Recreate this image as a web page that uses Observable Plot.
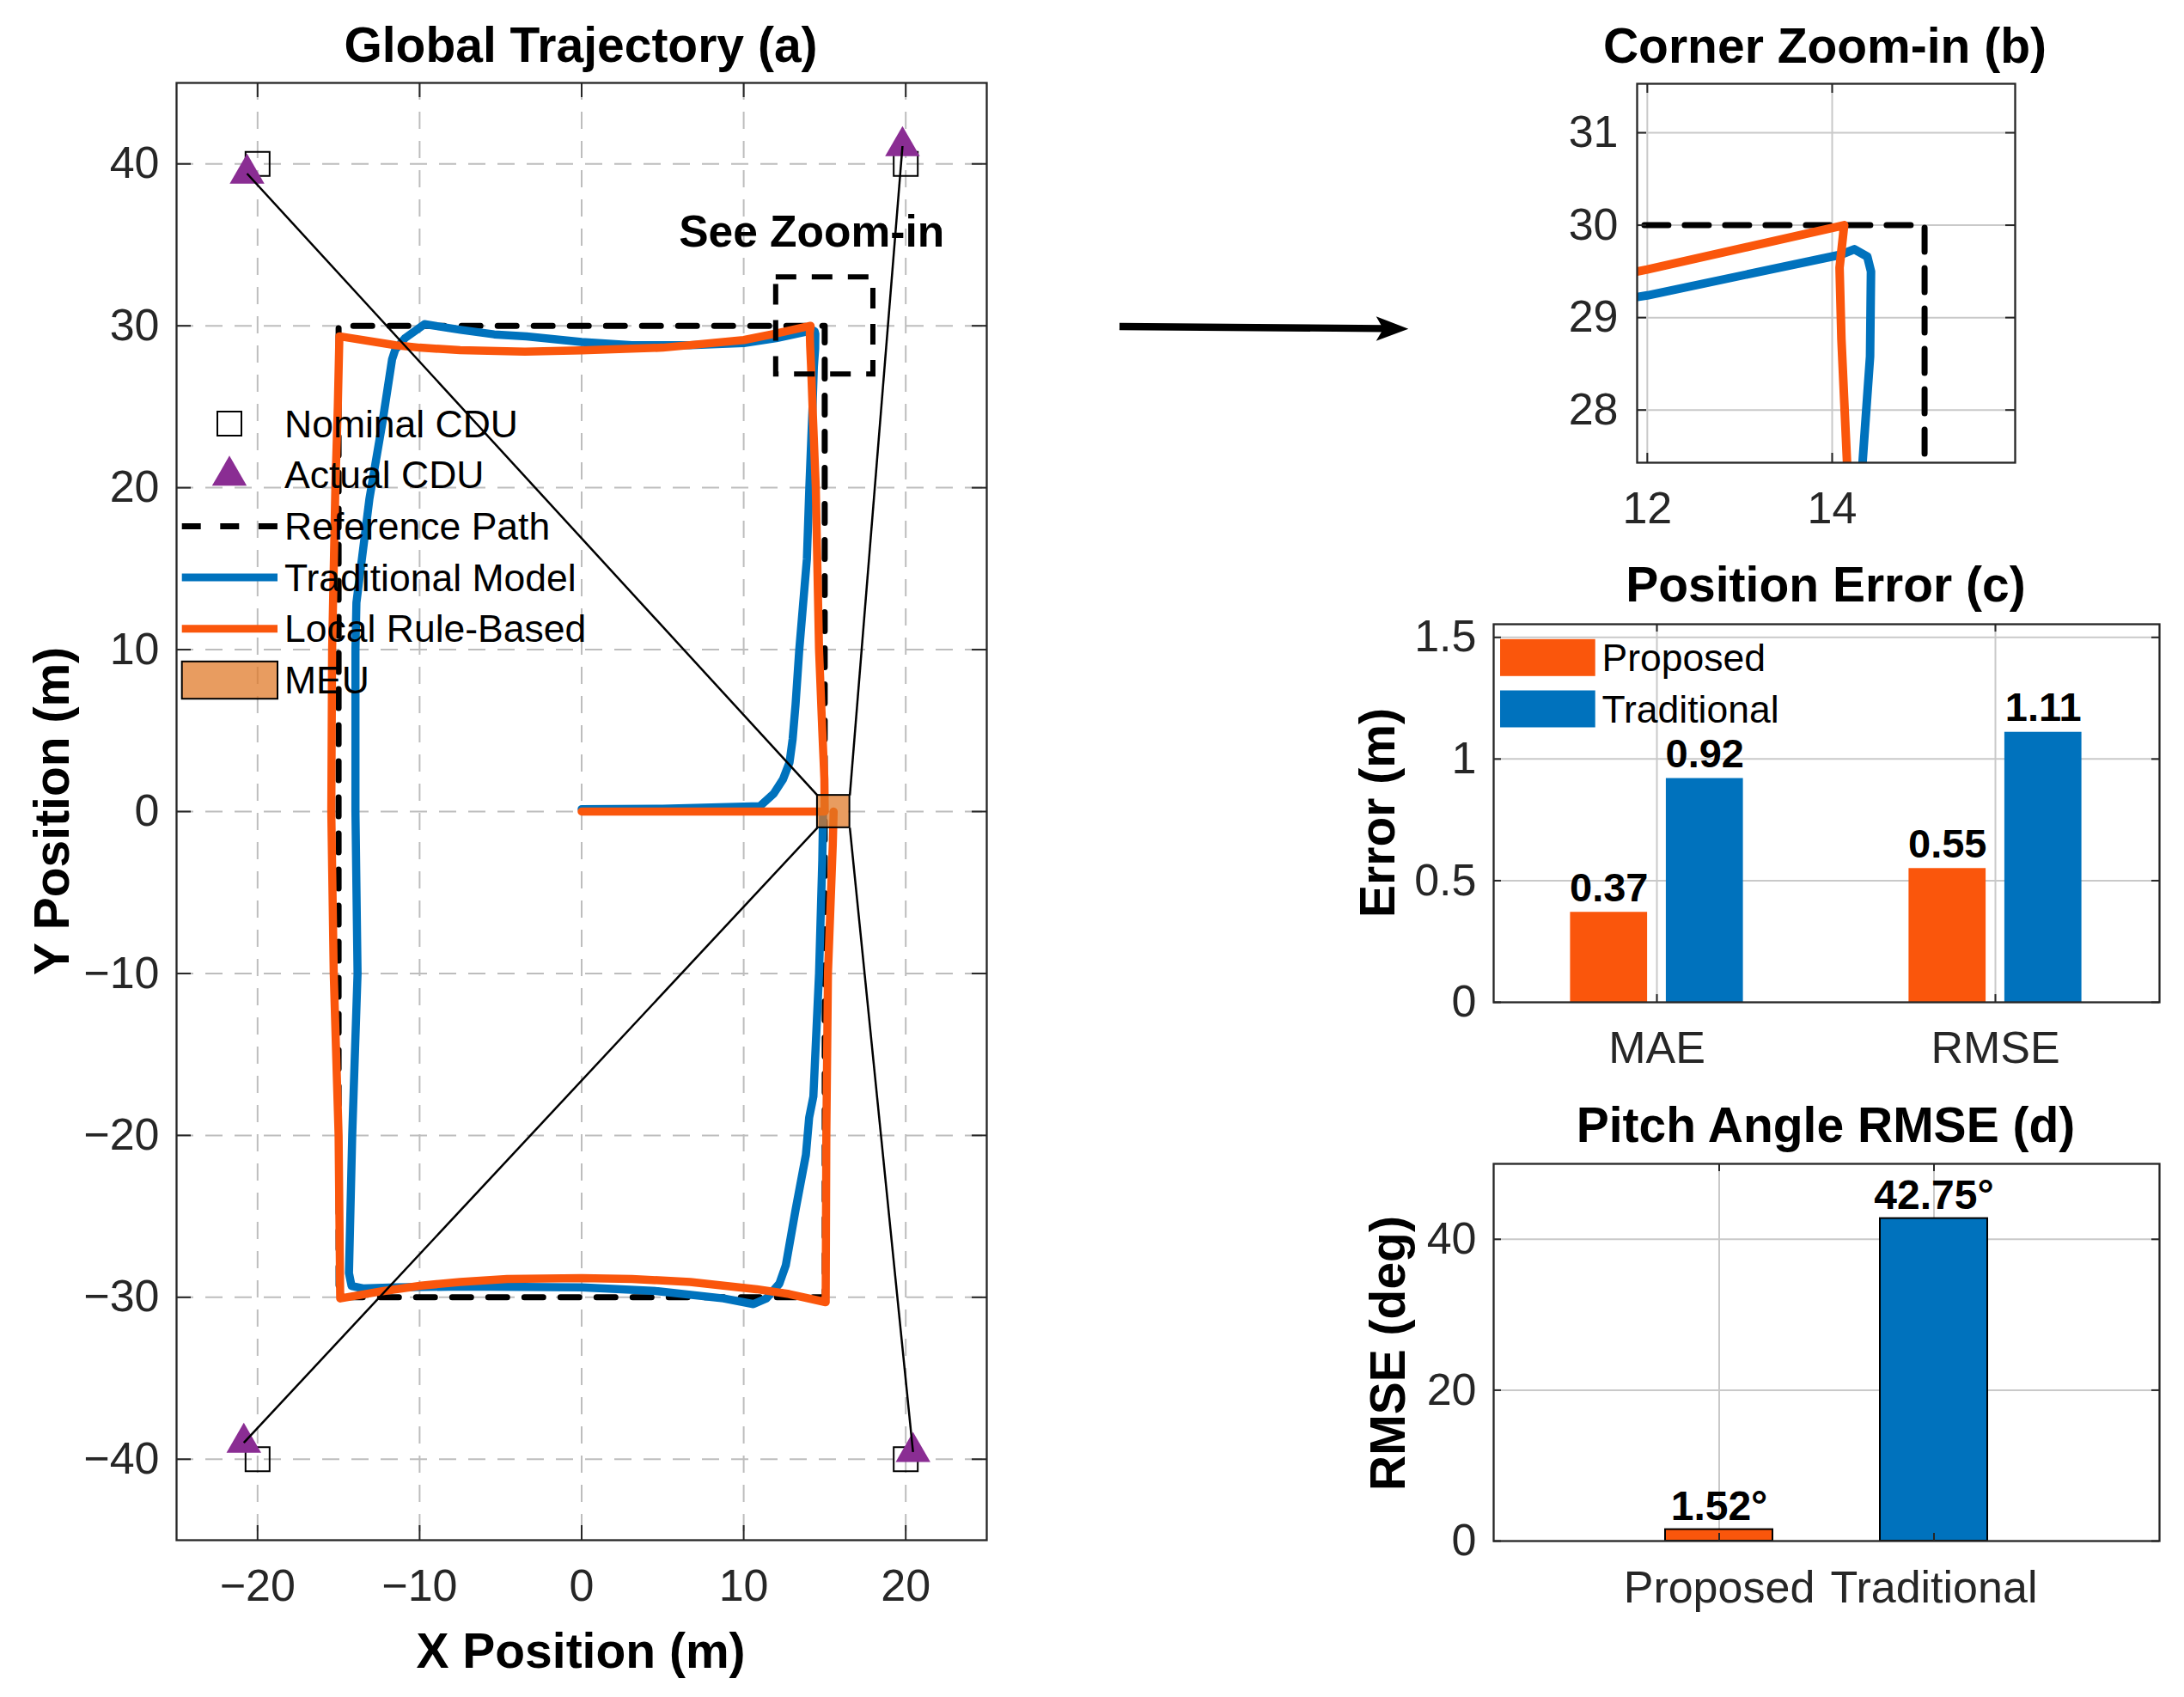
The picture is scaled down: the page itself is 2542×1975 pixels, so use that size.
<!DOCTYPE html>
<html>
<head>
<meta charset="utf-8">
<script src="https://cdn.jsdelivr.net/npm/d3@7"></script>
<script src="https://cdn.jsdelivr.net/npm/@observablehq/plot@0.6"></script>
<style>
  html, body { margin: 0; padding: 0; background: #ffffff; overflow: hidden; }
  #root { position: relative; width: 2542px; height: 1975px; background: #ffffff; overflow: hidden; }
  .panel { position: absolute; }
</style>
</head>
<body>
<div id="root"></div>
<script>
// ---------------- DATA ----------------
// Panel (a) / (b): trajectories
const nominalCduX = [-20, 20, -20, 20];
const nominalCduY = [40, 40, -40, -40];
const actualCduX = [-20.65, 19.8, -20.85, 20.45];
const actualCduY = [39.4, 41.1, -38.98, -39.55];
const meuCenter = [15.55, 0];
const meuHalfSize = 1;
const refPathX = [15, 15, -15, -15, 15, 15];
const refPathY = [0, 30, 30, -30, -30, 0];
const tradX = [0, 5, 11.0, 11.85, 12.42, 12.83, 13.02, 13.2, 13.43, 13.9,
  14.05, 14.25, 14.33, 14.41, 14.42, 14.38, 14.24, 14.09, 12.0, 10.0,
  6.7, 3.1, 0, -3.4, -5.4, -7.47, -9.7, -10.9, -11.5, -11.7,
  -12.3, -13.1, -13.9, -13.96, -13.96, -13.83, -14.16, -14.36, -14.2, -13.5,
  -11.5, -7.47, 0, 4.7, 8.76, 10.6, 11.4, 12.2, 12.6, 13.2,
  13.84, 14.04, 14.3, 14.65, 14.85, 14.9];
const tradY = [0.15, 0.17, 0.33, 1.1, 1.98, 3.04, 4.47, 6.6, 10, 15.6,
  20, 25, 27.45, 28.58, 29.5, 29.66, 29.74, 29.68, 29.24, 28.93,
  28.8, 28.8, 29.0, 29.35, 29.47, 29.75, 30.1, 29.24, 28.53, 27.93,
  24.0, 19.3, 12.9, 10, 0, -10, -20, -28.5, -29.3, -29.45,
  -29.39, -29.33, -29.39, -29.62, -30.07, -30.42, -30.07, -29.16, -28.02, -24.6,
  -21.2, -18.9, -17.6, -10, -3, 0];
const localX = [0, 15.0, 14.98, 14.85, 14.65, 14.45, 14.25, 14.16, 14.1, 14.08,
  14.13, 12.0, 10.0, 5.0, 0, -3.5, -7.5, -10.0, -11.5, -14.95,
  -15.05, -15.2, -15.4, -15.45, -15.3, -15.0, -14.9, -12.3, -9.9, -7.5,
  -4.6, 0, 3.1, 6.7, 10.8, 12.8, 15.06, 15.1, 15.2, 15.5,
  15.55];
const localY = [0, 0, 2, 5, 10, 20, 25, 27.45, 28.77, 29.54,
  30.0, 29.52, 29.12, 28.65, 28.48, 28.41, 28.5, 28.65, 28.8, 29.35,
  25, 20, 10, 0, -10, -20, -30.07, -29.62, -29.28, -29.05,
  -28.87, -28.82, -28.87, -29.05, -29.5, -29.8, -30.3, -20, -10, -2,
  0];
const zoomBoxX = [12, 18];
const zoomBoxY = [27, 33];
const annotationText = ["See Zoom-in"];
const annotationX = [6.0];
const annotationY = [34.9];
const xTicksA = [-20, -10, 0, 10, 20];
const yTicksA = [-40, -30, -20, -10, 0, 10, 20, 30, 40];
const xDomainA = [-25, 25];
const yDomainA = [-45, 45];
const xTicksB = [12, 14];
const yTicksB = [28, 29, 30, 31];
const xDomainB = [11.89, 15.98];
const yDomainB = [27.43, 31.53];
const legendA = ["Nominal CDU", "Actual CDU", "Reference Path", "Traditional Model", "Local Rule-Based", "MEU"];

// Panel (c)
const errMetrics = ["MAE", "RMSE"];
const methods = ["Proposed", "Traditional"];
const errProposed = [0.37, 0.55];
const errTraditional = [0.92, 1.11];
const yTicksC = [0, 0.5, 1, 1.5];
const yDomainC = [0, 1.554];

// Panel (d)
const pitchRmse = [1.52, 42.75];
const yTicksD = [0, 20, 40];
const yDomainD = [0, 50];

// ---------------- STYLE ----------------
const FONT = '"Liberation Sans", Arial, Helvetica, sans-serif';
const ORANGE = "#FA560C", BLUE = "#0072BD", PURPLE = "#8A2D93", MEU_FILL = "#DF7622";
const AXIS = "#262626", GRID_A = "#bdbdbd", GRID = "#c9c9c9";
const TICK_FS = 52;
const HEAD_FS = 57;

// ---------------- TABLES ----------------
const toPts = (xs, ys) => xs.map((x, i) => ({x, y: ys[i]}));
const refPath = toPts(refPathX, refPathY);
const trad = toPts(tradX, tradY);
const local = toPts(localX, localY);
const nominal = toPts(nominalCduX, nominalCduY);
const actual = toPts(actualCduX, actualCduY);
const meuRect = [{x1: meuCenter[0] - meuHalfSize, x2: meuCenter[0] + meuHalfSize, y1: meuCenter[1] - meuHalfSize, y2: meuCenter[1] + meuHalfSize}];
const links = actual.map(p => ({
  x1: p.x, y1: p.y,
  x2: meuCenter[0] + Math.sign(p.x - meuCenter[0]) * meuHalfSize,
  y2: meuCenter[1] + Math.sign(p.y - meuCenter[1]) * meuHalfSize
}));
const zoomRect = [{x1: zoomBoxX[0], x2: zoomBoxX[1], y1: zoomBoxY[0], y2: zoomBoxY[1]}];
const annotations = annotationText.map((t, i) => ({text: t, x: annotationX[i], y: annotationY[i]}));
const errRows = errMetrics.flatMap((m, i) => [
  {metric: m, method: methods[0], value: errProposed[i]},
  {metric: m, method: methods[1], value: errTraditional[i]}
]);
const pitchRows = methods.map((m, i) => ({method: m, value: pitchRmse[i]}));

const signedFmt = d => (d < 0 ? "\u2212" : "") + Math.abs(d);
const plainFmt = d => String(d);

function inwardTicks(xt, yt, innerW, innerH, len) {
  const s = {stroke: AXIS, strokeOpacity: 1, strokeWidth: 2};
  return [
    Plot.gridX(xt, {...s, insetTop: innerH - len}),
    Plot.gridX(xt, {...s, insetBottom: innerH - len}),
    Plot.gridY(yt, {...s, insetRight: innerW - len}),
    Plot.gridY(yt, {...s, insetLeft: innerW - len})
  ];
}

const root = document.getElementById("root");
function place(svg, left, top) {
  const d = document.createElement("div");
  d.className = "panel";
  d.style.left = left + "px";
  d.style.top = top + "px";
  d.appendChild(svg);
  root.appendChild(d);
}
const baseStyle = {fontFamily: FONT, color: AXIS, background: "transparent", overflow: "visible"};

// ---------------- PANEL A ----------------
{
  const W = 1200, H = 1975, ml = 205, mr = 52, mt = 96, mb = 183;
  const iw = W - ml - mr, ih = H - mt - mb;
  const lineOpts = {x: "x", y: "y", strokeWidth: 9.5, strokeLinejoin: "round", strokeLinecap: "round"};
  const p = Plot.plot({
    width: W, height: H, marginLeft: ml, marginRight: mr, marginTop: mt, marginBottom: mb,
    style: baseStyle,
    x: {domain: xDomainA}, y: {domain: yDomainA},
    marks: [
      Plot.gridX(xTicksA, {stroke: GRID_A, strokeOpacity: 1, strokeWidth: 2, strokeDasharray: "20,14"}),
      Plot.gridY(yTicksA, {stroke: GRID_A, strokeOpacity: 1, strokeWidth: 2, strokeDasharray: "20,14"}),
      Plot.line(refPath, {x: "x", y: "y", stroke: "black", strokeWidth: 7, strokeDasharray: "22,20"}),
      Plot.line(trad, {...lineOpts, stroke: BLUE}),
      Plot.line(local, {...lineOpts, stroke: ORANGE}),
      Plot.dot(nominal, {x: "x", y: "y", symbol: "square", r: 15.8, fill: "none", stroke: "black", strokeWidth: 2}),
      Plot.dot(actual, {x: "x", y: "y", symbol: "triangle", r: 15, fill: PURPLE}),
      Plot.link(links, {x1: "x1", y1: "y1", x2: "x2", y2: "y2", stroke: "black", strokeWidth: 2.5}),
      Plot.rect(meuRect, {x1: "x1", x2: "x2", y1: "y1", y2: "y2", fill: MEU_FILL, fillOpacity: 0.72, stroke: "black", strokeWidth: 2}),
      Plot.rect(zoomRect, {x1: "x1", x2: "x2", y1: "y1", y2: "y2", fill: "none", stroke: "black", strokeWidth: 6, strokeDasharray: "24,18"}),
      Plot.text(annotations, {x: "x", y: "y", text: "text", textAnchor: "start", lineAnchor: "bottom", fontSize: 51.5, fontWeight: "bold", fill: "black"}),
      Plot.frame({stroke: AXIS, strokeWidth: 2.3}),
      ...inwardTicks(xTicksA, yTicksA, iw, ih, 17),
      Plot.axisX(xTicksA, {tickSize: 0, tickPadding: 34, fontSize: TICK_FS, label: null, tickFormat: signedFmt}),
      Plot.axisY(yTicksA, {tickSize: 0, tickPadding: 20, fontSize: TICK_FS, label: null, tickFormat: signedFmt})
    ]
  });
  place(p, 0, 0);
}

// ---------------- PANEL B ----------------
{
  const W = 842, H = 650, ml = 205, mr = 197, mt = 97, mb = 112;
  const iw = W - ml - mr, ih = H - mt - mb;
  const lineOpts = {x: "x", y: "y", strokeWidth: 10, strokeLinejoin: "round", strokeLinecap: "round", clip: true};
  const p = Plot.plot({
    width: W, height: H, marginLeft: ml, marginRight: mr, marginTop: mt, marginBottom: mb,
    style: baseStyle,
    x: {domain: xDomainB}, y: {domain: yDomainB},
    marks: [
      Plot.gridX(xTicksB, {stroke: GRID, strokeOpacity: 1, strokeWidth: 2}),
      Plot.gridY(yTicksB, {stroke: GRID, strokeOpacity: 1, strokeWidth: 2}),
      Plot.line(refPath, {x: "x", y: "y", stroke: "black", strokeWidth: 7, strokeDasharray: "28,19", clip: true}),
      Plot.line(trad, {...lineOpts, stroke: BLUE}),
      Plot.line(local, {...lineOpts, stroke: ORANGE}),
      Plot.frame({stroke: AXIS, strokeWidth: 2.3}),
      ...inwardTicks(xTicksB, yTicksB, iw, ih, 11),
      Plot.axisX(xTicksB, {tickSize: 0, tickPadding: 34, fontSize: TICK_FS, label: null, tickFormat: plainFmt}),
      Plot.axisY(yTicksB, {tickSize: 0, tickPadding: 22, fontSize: TICK_FS, label: null, tickFormat: plainFmt})
    ]
  });
  place(p, 1700, 0);
}

// ---------------- PANEL C ----------------
{
  const W = 992, H = 620, ml = 188, mr = 29, mt = 76, mb = 104;
  const iw = W - ml - mr, ih = H - mt - mb;
  const prop = errRows.filter(d => d.method === methods[0]);
  const tradRows = errRows.filter(d => d.method === methods[1]);
  const p = Plot.plot({
    width: W, height: H, marginLeft: ml, marginRight: mr, marginTop: mt, marginBottom: mb,
    style: baseStyle,
    x: {type: "band", domain: errMetrics, paddingInner: 0.05, paddingOuter: 0.007},
    y: {domain: yDomainC},
    color: {domain: methods, range: [ORANGE, BLUE]},
    marks: [
      Plot.gridX(errMetrics, {stroke: GRID, strokeOpacity: 1, strokeWidth: 2}),
      Plot.gridY(yTicksC.filter(d => d > 0), {stroke: GRID, strokeOpacity: 1, strokeWidth: 2}),
      Plot.barY(prop, {x: "metric", y: "value", fill: "method", insetLeft: 86.4, insetRight: 197.9}),
      Plot.barY(tradRows, {x: "metric", y: "value", fill: "method", insetLeft: 197.9, insetRight: 86.4}),
      Plot.text(prop, {x: "metric", y: "value", text: d => d.value.toFixed(2), dx: -55.75, dy: -13, lineAnchor: "bottom", fontSize: 47, fontWeight: "bold", fill: "black"}),
      Plot.text(tradRows, {x: "metric", y: "value", text: d => d.value.toFixed(2), dx: 55.75, dy: -13, lineAnchor: "bottom", fontSize: 47, fontWeight: "bold", fill: "black"}),
      Plot.frame({stroke: AXIS, strokeWidth: 2.3}),
      ...inwardTicks(errMetrics, yTicksC, iw, ih, 9),
      Plot.axisX(errMetrics, {tickSize: 0, tickPadding: 34, fontSize: TICK_FS, label: null}),
      Plot.axisY(yTicksC, {tickSize: 0, tickPadding: 20, fontSize: TICK_FS, label: null, tickFormat: plainFmt})
    ]
  });
  place(p, 1550, 650);
}

// ---------------- PANEL D ----------------
{
  const W = 992, H = 705, ml = 188, mr = 29, mt = 84, mb = 182;
  const iw = W - ml - mr, ih = H - mt - mb;
  const p = Plot.plot({
    width: W, height: H, marginLeft: ml, marginRight: mr, marginTop: mt, marginBottom: mb,
    style: baseStyle,
    x: {type: "band", domain: methods, paddingInner: 0.5, paddingOuter: 0.8},
    y: {domain: yDomainD},
    color: {domain: methods, range: [ORANGE, BLUE]},
    marks: [
      Plot.gridX(methods, {stroke: GRID, strokeOpacity: 1, strokeWidth: 2}),
      Plot.gridY(yTicksD.filter(d => d > 0), {stroke: GRID, strokeOpacity: 1, strokeWidth: 2}),
      Plot.barY(pitchRows, {x: "method", y: "value", fill: "method", stroke: "black", strokeWidth: 2}),
      Plot.text(pitchRows, {x: "method", y: "value", text: d => d.value.toFixed(2) + "\u00B0", dy: -11.5, lineAnchor: "bottom", fontSize: 48, fontWeight: "bold", fill: "black"}),
      Plot.frame({stroke: AXIS, strokeWidth: 2.3}),
      ...inwardTicks(methods, yTicksD, iw, ih, 9),
      Plot.axisX(methods, {tickSize: 0, tickPadding: 35, fontSize: TICK_FS, label: null}),
      Plot.axisY(yTicksD, {tickSize: 0, tickPadding: 20, fontSize: TICK_FS, label: null, tickFormat: plainFmt})
    ]
  });
  place(p, 1550, 1270);
}

// ---------------- OVERLAY: titles, labels, legends, arrow ----------------
const ov = d3.select(root).append("svg")
  .attr("width", 2542).attr("height", 1975)
  .style("position", "absolute").style("left", "0px").style("top", "0px")
  .style("font-family", FONT).style("pointer-events", "none");

const titles = [
  {text: "Global Trajectory (a)", x: 676, y: 71.5},
  {text: "Corner Zoom-in (b)", x: 2124, y: 72.5},
  {text: "Position Error (c)", x: 2125, y: 699.6},
  {text: "Pitch Angle RMSE (d)", x: 2125, y: 1328.6}
];
ov.selectAll("text.title").data(titles).join("text").attr("class", "title")
  .attr("x", d => d.x).attr("y", d => d.y).attr("text-anchor", "middle")
  .attr("font-size", HEAD_FS).attr("font-weight", "bold").attr("fill", "black").text(d => d.text);

const xLabels = [{text: "X Position (m)", x: 676, y: 1941}];
ov.selectAll("text.xl").data(xLabels).join("text").attr("class", "xl")
  .attr("x", d => d.x).attr("y", d => d.y).attr("text-anchor", "middle")
  .attr("font-size", HEAD_FS).attr("font-weight", "bold").attr("fill", "black").text(d => d.text);

const yLabels = [
  {text: "Y Position (m)", x: 80, y: 944},
  {text: "Error (m)", x: 1623, y: 946},
  {text: "RMSE (deg)", x: 1635, y: 1575}
];
ov.selectAll("text.yl").data(yLabels).join("text").attr("class", "yl")
  .attr("transform", d => `translate(${d.x},${d.y}) rotate(-90)`).attr("text-anchor", "middle")
  .attr("font-size", HEAD_FS).attr("font-weight", "bold").attr("fill", "black").text(d => d.text);

// Legend (a)
{
  const g = ov.append("g");
  const rowY = legendA.map((_, i) => 493 + i * 59.7);
  const sx0 = 211.7, sx1 = 323, sc = 267;
  g.selectAll("text").data(legendA).join("text")
    .attr("x", 331).attr("y", (d, i) => rowY[i]).attr("dy", "0.35em")
    .attr("font-size", 44.5).attr("fill", "black").text(d => d);
  g.append("rect").attr("x", sc - 14).attr("y", rowY[0] - 14).attr("width", 28).attr("height", 28)
    .attr("fill", "none").attr("stroke", "black").attr("stroke-width", 2);
  g.append("path").attr("d", d3.symbol(d3.symbolTriangle, Math.PI * 15 * 15)())
    .attr("transform", `translate(${sc},${rowY[1] + 1})`).attr("fill", PURPLE);
  g.append("line").attr("x1", sx0).attr("x2", sx1).attr("y1", rowY[2]).attr("y2", rowY[2])
    .attr("stroke", "black").attr("stroke-width", 7).attr("stroke-dasharray", "22,22.6");
  g.append("line").attr("x1", sx0).attr("x2", sx1).attr("y1", rowY[3]).attr("y2", rowY[3])
    .attr("stroke", BLUE).attr("stroke-width", 9);
  g.append("line").attr("x1", sx0).attr("x2", sx1).attr("y1", rowY[4]).attr("y2", rowY[4])
    .attr("stroke", ORANGE).attr("stroke-width", 9);
  g.append("rect").attr("x", sx0).attr("y", rowY[5] - 21.7).attr("width", sx1 - sx0).attr("height", 43.4)
    .attr("fill", MEU_FILL).attr("fill-opacity", 0.72).attr("stroke", "black").attr("stroke-width", 2);
}

// Legend (c)
{
  const g = ov.append("g");
  const rows = [{y: 765.3, c: ORANGE}, {y: 825, c: BLUE}];
  g.selectAll("rect").data(rows).join("rect")
    .attr("x", 1746).attr("y", d => d.y - 21.5).attr("width", 110.7).attr("height", 43).attr("fill", d => d.c);
  g.selectAll("text").data(methods).join("text")
    .attr("x", 1864.5).attr("y", (d, i) => rows[i].y).attr("dy", "0.35em")
    .attr("font-size", 44.5).attr("fill", "black").text(d => d);
}

// Arrow from (a) to (b)
{
  const g = ov.append("g");
  g.append("line").attr("x1", 1303).attr("y1", 380).attr("x2", 1612).attr("y2", 382.4)
    .attr("stroke", "black").attr("stroke-width", 8.3);
  g.append("path").attr("d", "M1639.3,382.7 L1601.7,368.3 L1610,382.7 L1601.7,396.7 Z").attr("fill", "black");
}
</script>
</body>
</html>
